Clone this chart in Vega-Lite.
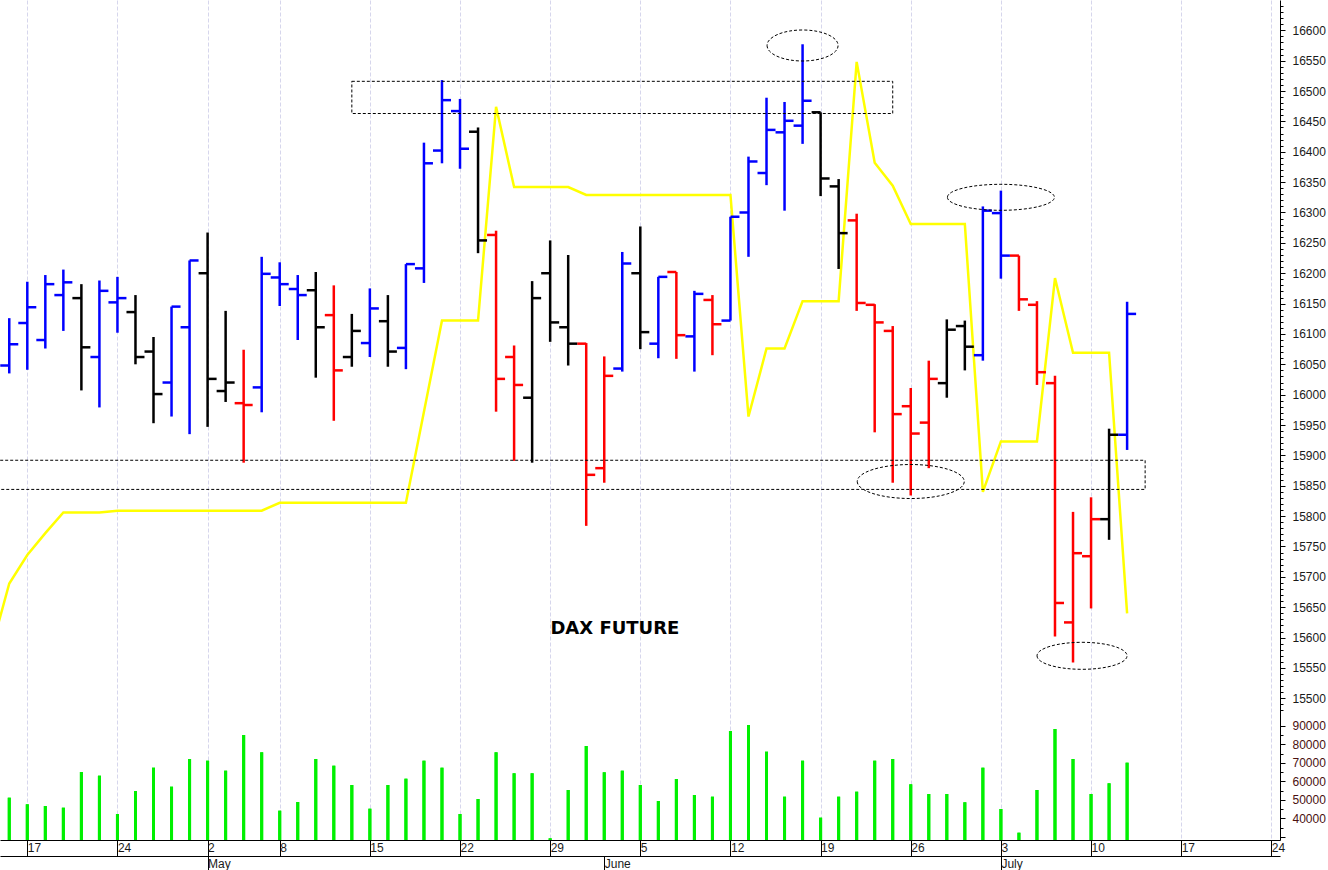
{
  "$schema": "https://vega.github.io/schema/vega-lite/v6.json",
  "width": 1280,
  "height": 840,
  "autosize": {"type": "none"},
  "padding": {"left": 0, "top": 0, "right": 48, "bottom": 30},
  "background": "white",
  "config": {
    "view": {"stroke": null},
    "axis": {"domainColor": "black", "domainWidth": 1, "tickColor": "black", "tickWidth": 1, "labelFont": "Liberation Sans", "labelFontSize": 12, "labelColor": "#1a1a1a"}
  },
  "datasets": {
    "bars": [
      {"d": "2023-04-13", "i": -1, "yl": 15580},
      {"d": "2023-04-14", "i": 0, "o": 16048, "h": 16126, "l": 16035, "c": 16083, "t": "up", "v": 51160, "yl": 15689},
      {"d": "2023-04-17", "i": 1, "o": 16118, "h": 16186, "l": 16041, "c": 16144, "t": "up", "v": 47580, "yl": 15736},
      {"d": "2023-04-18", "i": 2, "o": 16090, "h": 16197, "l": 16076, "c": 16182, "t": "up", "v": 46660, "yl": 15772},
      {"d": "2023-04-19", "i": 3, "o": 16164, "h": 16206, "l": 16105, "c": 16185, "t": "up", "v": 45740, "yl": 15806},
      {"d": "2023-04-20", "i": 4, "o": 16159, "h": 16182, "l": 16007, "c": 16078, "t": "flat", "v": 65080, "yl": 15806},
      {"d": "2023-04-21", "i": 5, "o": 16062, "h": 16188, "l": 15979, "c": 16171, "t": "up", "v": 63080, "yl": 15806},
      {"d": "2023-04-24", "i": 6, "o": 16152, "h": 16194, "l": 16102, "c": 16159, "t": "up", "v": 42330, "yl": 15809},
      {"d": "2023-04-25", "i": 7, "o": 16136, "h": 16164, "l": 16050, "c": 16062, "t": "flat", "v": 54790, "yl": 15809},
      {"d": "2023-04-26", "i": 8, "o": 16071, "h": 16095, "l": 15953, "c": 16001, "t": "flat", "v": 67410, "yl": 15809},
      {"d": "2023-04-27", "i": 9, "o": 16020, "h": 16145, "l": 15964, "c": 16145, "t": "up", "v": 57120, "yl": 15809},
      {"d": "2023-04-28", "i": 10, "o": 16111, "h": 16221, "l": 15935, "c": 16221, "t": "up", "v": 72120, "yl": 15809},
      {"d": "2023-05-02", "i": 11, "o": 16200, "h": 16267, "l": 15947, "c": 16026, "t": "flat", "v": 71200, "yl": 15809},
      {"d": "2023-05-03", "i": 12, "o": 16006, "h": 16138, "l": 15988, "c": 16020, "t": "flat", "v": 65790, "yl": 15809},
      {"d": "2023-05-04", "i": 13, "o": 15986, "h": 16074, "l": 15888, "c": 15983, "t": "down", "v": 85120, "yl": 15809},
      {"d": "2023-05-05", "i": 14, "o": 16012, "h": 16227, "l": 15971, "c": 16199, "t": "up", "v": 75750, "yl": 15809},
      {"d": "2023-05-08", "i": 15, "o": 16193, "h": 16218, "l": 16146, "c": 16182, "t": "up", "v": 44120, "yl": 15822},
      {"d": "2023-05-09", "i": 16, "o": 16174, "h": 16197, "l": 16090, "c": 16164, "t": "up", "v": 48830, "yl": 15822},
      {"d": "2023-05-10", "i": 17, "o": 16172, "h": 16202, "l": 16028, "c": 16111, "t": "flat", "v": 72120, "yl": 15822},
      {"d": "2023-05-11", "i": 18, "o": 16131, "h": 16180, "l": 15957, "c": 16040, "t": "down", "v": 68490, "yl": 15822},
      {"d": "2023-05-12", "i": 19, "o": 16062, "h": 16133, "l": 16046, "c": 16105, "t": "flat", "v": 58040, "yl": 15822},
      {"d": "2023-05-15", "i": 20, "o": 16085, "h": 16175, "l": 16062, "c": 16142, "t": "up", "v": 45200, "yl": 15822},
      {"d": "2023-05-16", "i": 21, "o": 16121, "h": 16164, "l": 16046, "c": 16071, "t": "flat", "v": 58040, "yl": 15822},
      {"d": "2023-05-17", "i": 22, "o": 16077, "h": 16215, "l": 16042, "c": 16215, "t": "up", "v": 61450, "yl": 15822},
      {"d": "2023-05-18", "i": 23, "o": 16208, "h": 16415, "l": 16184, "c": 16381, "t": "up", "v": 71200, "yl": 15972},
      {"d": "2023-05-19", "i": 24, "o": 16402, "h": 16518, "l": 16381, "c": 16485, "t": "up", "v": 67410, "yl": 16122},
      {"d": "2023-05-22", "i": 25, "o": 16467, "h": 16487, "l": 16372, "c": 16405, "t": "up", "v": 42330, "yl": 16122},
      {"d": "2023-05-23", "i": 26, "o": 16433, "h": 16440, "l": 16233, "c": 16254, "t": "flat", "v": 50460, "yl": 16122},
      {"d": "2023-05-24", "i": 27, "o": 16263, "h": 16270, "l": 15972, "c": 16026, "t": "down", "v": 75750, "yl": 16474},
      {"d": "2023-05-25", "i": 28, "o": 16062, "h": 16081, "l": 15891, "c": 16016, "t": "down", "v": 64380, "yl": 16342},
      {"d": "2023-05-26", "i": 29, "o": 15995, "h": 16187, "l": 15888, "c": 16159, "t": "flat", "v": 64380, "yl": 16342},
      {"d": "2023-05-29", "i": 30, "o": 16200, "h": 16254, "l": 16087, "c": 16119, "t": "flat", "v": 29170, "yl": 16342},
      {"d": "2023-05-30", "i": 31, "o": 16111, "h": 16230, "l": 16048, "c": 16084, "t": "flat", "v": 55330, "yl": 16342},
      {"d": "2023-05-31", "i": 32, "o": 16084, "h": 16085, "l": 15784, "c": 15868, "t": "down", "v": 79170, "yl": 16329},
      {"d": "2023-06-01", "i": 33, "o": 15879, "h": 16063, "l": 15855, "c": 16031, "t": "down", "v": 64920, "yl": 16329},
      {"d": "2023-06-02", "i": 34, "o": 16043, "h": 16235, "l": 16038, "c": 16216, "t": "up", "v": 65790, "yl": 16329},
      {"d": "2023-06-05", "i": 35, "o": 16200, "h": 16277, "l": 16075, "c": 16103, "t": "flat", "v": 58040, "yl": 16329},
      {"d": "2023-06-06", "i": 36, "o": 16084, "h": 16194, "l": 16060, "c": 16194, "t": "up", "v": 49370, "yl": 16329},
      {"d": "2023-06-07", "i": 37, "o": 16202, "h": 16202, "l": 16059, "c": 16098, "t": "down", "v": 61290, "yl": 16329},
      {"d": "2023-06-08", "i": 38, "o": 16096, "h": 16171, "l": 16038, "c": 16166, "t": "up", "v": 52620, "yl": 16329},
      {"d": "2023-06-09", "i": 39, "o": 16156, "h": 16164, "l": 16065, "c": 16116, "t": "down", "v": 51700, "yl": 16329},
      {"d": "2023-06-12", "i": 40, "o": 16122, "h": 16293, "l": 16122, "c": 16293, "t": "up", "v": 87290, "yl": 16329},
      {"d": "2023-06-13", "i": 41, "o": 16300, "h": 16392, "l": 16227, "c": 16384, "t": "up", "v": 90540, "yl": 15964},
      {"d": "2023-06-14", "i": 42, "o": 16365, "h": 16489, "l": 16345, "c": 16436, "t": "up", "v": 76080, "yl": 16076},
      {"d": "2023-06-15", "i": 43, "o": 16432, "h": 16482, "l": 16303, "c": 16451, "t": "up", "v": 51700, "yl": 16076},
      {"d": "2023-06-16", "i": 44, "o": 16443, "h": 16577, "l": 16413, "c": 16484, "t": "up", "v": 71200, "yl": 16154},
      {"d": "2023-06-19", "i": 45, "o": 16465, "h": 16465, "l": 16327, "c": 16356, "t": "flat", "v": 40330, "yl": 16154},
      {"d": "2023-06-20", "i": 46, "o": 16343, "h": 16355, "l": 16207, "c": 16266, "t": "flat", "v": 51700, "yl": 16154},
      {"d": "2023-06-21", "i": 47, "o": 16287, "h": 16298, "l": 16138, "c": 16151, "t": "down", "v": 54410, "yl": 16548},
      {"d": "2023-06-22", "i": 48, "o": 16148, "h": 16149, "l": 15938, "c": 16119, "t": "down", "v": 71200, "yl": 16382},
      {"d": "2023-06-23", "i": 49, "o": 16105, "h": 16113, "l": 15855, "c": 15968, "t": "down", "v": 72120, "yl": 16344},
      {"d": "2023-06-26", "i": 50, "o": 15981, "h": 16011, "l": 15834, "c": 15936, "t": "down", "v": 58420, "yl": 16281},
      {"d": "2023-06-27", "i": 51, "o": 15954, "h": 16056, "l": 15879, "c": 16026, "t": "down", "v": 53160, "yl": 16281},
      {"d": "2023-06-28", "i": 52, "o": 16019, "h": 16124, "l": 15995, "c": 16107, "t": "flat", "v": 53160, "yl": 16281},
      {"d": "2023-06-29", "i": 53, "o": 16113, "h": 16122, "l": 16040, "c": 16079, "t": "flat", "v": 48670, "yl": 16281},
      {"d": "2023-06-30", "i": 54, "o": 16065, "h": 16310, "l": 16056, "c": 16303, "t": "up", "v": 67410, "yl": 15840},
      {"d": "2023-07-03", "i": 55, "o": 16299, "h": 16336, "l": 16191, "c": 16229, "t": "up", "v": 45040, "yl": 15923},
      {"d": "2023-07-04", "i": 56, "o": 16229, "h": 16229, "l": 16138, "c": 16157, "t": "down", "v": 32200, "yl": 15923},
      {"d": "2023-07-05", "i": 57, "o": 16148, "h": 16154, "l": 16016, "c": 16037, "t": "down", "v": 55330, "yl": 15923},
      {"d": "2023-07-06", "i": 58, "o": 16019, "h": 16031, "l": 15602, "c": 15657, "t": "down", "v": 88370, "yl": 16192},
      {"d": "2023-07-07", "i": 59, "o": 15625, "h": 15807, "l": 15559, "c": 15739, "t": "down", "v": 72120, "yl": 16069},
      {"d": "2023-07-10", "i": 60, "o": 15734, "h": 15831, "l": 15648, "c": 15795, "t": "down", "v": 53160, "yl": 16069},
      {"d": "2023-07-11", "i": 61, "o": 15795, "h": 15944, "l": 15761, "c": 15934, "t": "flat", "v": 58960, "yl": 16069},
      {"d": "2023-07-12", "i": 62, "o": 15934, "h": 16153, "l": 15909, "c": 16133, "t": "up", "v": 70120, "yl": 15640}
    ],
    "zones": [
      {"x1": 19, "x2": 49, "p1": 16516, "p2": 16463},
      {"x1": -3, "x2": 63, "p1": 15892, "p2": 15844}
    ],
    "rings": [
      {"i": 44, "p": 16575, "k": "a"},
      {"i": 55, "p": 16325, "k": "b"},
      {"i": 50, "p": 15857, "k": "c"},
      {"i": 59.5, "p": 15570, "k": "d"}
    ],
    "note": [
      {"i": 33.59, "p": 15606, "txt": "DAX FUTURE"}
    ]
  },
  "encoding": {
    "x": {"field": "i", "type": "quantitative", "scale": {"domain": [-0.514, 70.48], "nice": false, "zero": false}, "axis": null}
  },
  "layer": [
    {
      "resolve": {"axis": {"x": "independent", "y": "independent"}},
      "layer": [
        {
          "data": {"name": "bars"},
          "mark": {"type": "line", "color": "#ffff00", "strokeWidth": 2.5, "clip": true},
          "encoding": {
            "y": {"field": "yl", "type": "quantitative", "axis": null}
          }
        },
        {
          "data": {"name": "bars"},
          "transform": [{"filter": "isValid(datum.h)"}],
          "mark": {"type": "rule", "strokeWidth": 2.5, "strokeCap": "butt"},
          "encoding": {
            "x": {"field": "i", "type": "quantitative", "axis": {
              "orient": "bottom", "title": null,
              "values": [1, 6, 11, 15, 20, 25, 30, 35, 40, 45, 50, 55, 60, 65, 70],
              "labelExpr": "['17','24','2','8','15','22','29','5','12','19','26','3','10','17','24'][indexof([1,6,11,15,20,25,30,35,40,45,50,55,60,65,70], datum.value)]",
              "tickSize": 16, "labelAlign": "left", "labelBaseline": "top", "labelPadding": -14, "labelDx": 2,
              "labelFlush": false, "labelOverlap": false,
              "grid": true, "gridColor": "#d6d6ec", "gridDash": [4, 2], "gridWidth": 1
            }},
            "y": {"field": "h", "type": "quantitative",
              "scale": {"domain": [15266.7, 16649.9], "nice": false, "zero": false},
              "axis": {
                "orient": "right", "title": null, "grid": false,
                "values": [15500, 15550, 15600, 15650, 15700, 15750, 15800, 15850, 15900, 15950, 16000, 16050, 16100, 16150, 16200, 16250, 16300, 16350, 16400, 16450, 16500, 16550, 16600],
                "format": "d", "tickSize": 5, "labelPadding": 7, "labelOverlap": false
              }},
            "y2": {"field": "l"},
            "color": {"field": "t", "type": "nominal", "scale": {"domain": ["up", "down", "flat"], "range": ["#0000ff", "#ff0000", "#000000"]}, "legend": null}
          }
        },
        {
          "data": {"name": "bars"},
          "transform": [{"filter": "isValid(datum.o)"}],
          "mark": {"type": "tick", "orient": "horizontal", "size": 9, "thickness": 2.5, "xOffset": -4.5, "opacity": 1},
          "encoding": {
            "x": {"field": "i", "type": "quantitative", "axis": {
              "orient": "bottom", "title": null, "offset": 16,
              "values": [11, 33, 55],
              "labelExpr": "['May','June','July'][indexof([11,33,55], datum.value)]",
              "tickSize": 14, "labelAlign": "left", "labelBaseline": "top", "labelPadding": -12, "labelDx": 2,
              "labelFlush": false, "labelOverlap": false, "grid": false
            }},
            "y": {"field": "o", "type": "quantitative", "axis": {
              "orient": "right", "title": null, "grid": false, "domain": false, "labels": false, "tickSize": 3,
              "values": [15480, 15490, 15500, 15510, 15520, 15530, 15540, 15550, 15560, 15570, 15580, 15590, 15600, 15610, 15620, 15630, 15640, 15650, 15660, 15670, 15680, 15690, 15700, 15710, 15720, 15730, 15740, 15750, 15760, 15770, 15780, 15790, 15800, 15810, 15820, 15830, 15840, 15850, 15860, 15870, 15880, 15890, 15900, 15910, 15920, 15930, 15940, 15950, 15960, 15970, 15980, 15990, 16000, 16010, 16020, 16030, 16040, 16050, 16060, 16070, 16080, 16090, 16100, 16110, 16120, 16130, 16140, 16150, 16160, 16170, 16180, 16190, 16200, 16210, 16220, 16230, 16240, 16250, 16260, 16270, 16280, 16290, 16300, 16310, 16320, 16330, 16340, 16350, 16360, 16370, 16380, 16390, 16400, 16410, 16420, 16430, 16440, 16450, 16460, 16470, 16480, 16490, 16500, 16510, 16520, 16530, 16540, 16550, 16560, 16570, 16580, 16590, 16600, 16610, 16620, 16630, 16640]
            }},
            "color": {"field": "t", "type": "nominal", "legend": null}
          }
        },
        {
          "data": {"name": "bars"},
          "transform": [{"filter": "isValid(datum.c)"}],
          "mark": {"type": "tick", "orient": "horizontal", "size": 9, "thickness": 2.5, "xOffset": 4.5, "opacity": 1},
          "encoding": {
            "y": {"field": "c", "type": "quantitative", "axis": null},
            "color": {"field": "t", "type": "nominal", "legend": null}
          }
        },
        {
          "data": {"name": "zones"},
          "mark": {"type": "rect", "filled": false, "stroke": "black", "strokeWidth": 1, "strokeDash": [3, 2], "clip": true},
          "encoding": {
            "x": {"field": "x1", "type": "quantitative"},
            "x2": {"field": "x2"},
            "y": {"field": "p1", "type": "quantitative", "axis": null},
            "y2": {"field": "p2"}
          }
        },
        {
          "data": {"name": "rings"},
          "mark": {"type": "point", "filled": false, "stroke": "black", "strokeWidth": 1, "strokeDash": [3, 2], "size": 4, "opacity": 1},
          "encoding": {
            "y": {"field": "p", "type": "quantitative", "axis": null},
            "shape": {"field": "k", "type": "nominal", "legend": null, "scale": {
              "domain": ["a", "b", "c", "d"],
              "range": [
                "M-35.5,0A35.5,15.5,0,1,0,35.5,0A35.5,15.5,0,1,0,-35.5,0Z",
                "M-53.5,0A53.5,13,0,1,0,53.5,0A53.5,13,0,1,0,-53.5,0Z",
                "M-53.5,0A53.5,17,0,1,0,53.5,0A53.5,17,0,1,0,-53.5,0Z",
                "M-45,0A45,13.5,0,1,0,45,0A45,13.5,0,1,0,-45,0Z"
              ]
            }}
          }
        },
        {
          "data": {"name": "note"},
          "mark": {"type": "text", "font": "DejaVu Sans", "fontSize": 18, "fontWeight": "bold", "align": "center", "baseline": "alphabetic", "color": "black"},
          "encoding": {
            "y": {"field": "p", "type": "quantitative", "axis": null},
            "text": {"field": "txt"}
          }
        }
      ]
    },
    {
      "data": {"name": "bars"},
      "transform": [{"filter": "isValid(datum.v)"}],
      "resolve": {"axis": {"y": "independent"}},
      "layer": [
        {
          "mark": {"type": "rule", "color": "#00f000", "strokeWidth": 3, "strokeCap": "butt"},
          "encoding": {
            "y": {"field": "v", "type": "quantitative",
              "scale": {"domain": [28245, 483270], "nice": false, "zero": false},
              "axis": {
                "orient": "right", "title": null, "grid": false, "domain": false,
                "values": [30000, 40000, 50000, 60000, 70000, 80000, 90000],
                "labelExpr": "datum.value >= 40000 ? format(datum.value, 'd') : ''",
                "tickSize": 5, "labelPadding": 7, "labelOverlap": false, "labelColor": "#4a1010"
              }},
            "y2": {"datum": 28245}
          }
        },
        {
          "mark": {"type": "rule", "color": "#00f000", "strokeWidth": 3, "strokeCap": "butt"},
          "encoding": {
            "y": {"field": "v", "type": "quantitative", "axis": {
              "orient": "right", "title": null, "grid": false, "domain": false, "labels": false, "tickSize": 3,
              "values": [35000, 45000, 55000, 65000, 75000, 85000]
            }},
            "y2": {"datum": 28245}
          }
        }
      ]
    }
  ],
  "resolve": {"scale": {"y": "independent"}, "axis": {"x": "independent"}}
}
